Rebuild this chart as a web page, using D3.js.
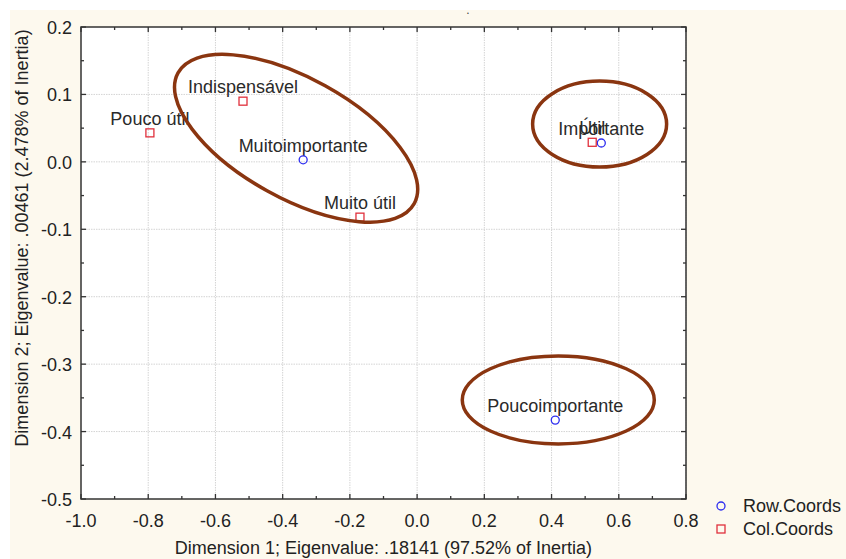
<!DOCTYPE html>
<html>
<head>
<meta charset="utf-8">
<script src="https://cdn.jsdelivr.net/npm/d3@7"></script>
<style>
  html, body { margin: 0; padding: 0; background: #ffffff; }
  svg { display: block; font-family: "Liberation Sans", Arial, sans-serif; }
</style>
</head>
<body>
<svg id="chart" width="846" height="559"></svg>
<script>
// Correspondence analysis coordinates
const rowLabels = ["Muitoimportante", "Importante", "Poucoimportante"];
const rowX = [-0.339, 0.548, 0.411];
const rowY = [0.003, 0.028, -0.383];

const colLabels = ["Pouco útil", "Indispensável", "Muito útil", "Útil"];
const colX = [-0.795, -0.518, -0.170, 0.521];
const colY = [0.043, 0.090, -0.082, 0.029];

const xTicks = [-1.0, -0.8, -0.6, -0.4, -0.2, 0.0, 0.2, 0.4, 0.6, 0.8];
const yTicks = [0.2, 0.1, 0.0, -0.1, -0.2, -0.3, -0.4, -0.5];

// Highlighted groups: centre (data units), semi-axes (px), rotation (deg)
const groupCx = [-0.360, 0.543, 0.420];
const groupCy = [0.035, 0.056, -0.353];
const groupRx = [135, 67, 96];
const groupRy = [60, 43, 44];
const groupRot = [29, 0, 0];

const xTitle = "Dimension 1; Eigenvalue: .18141 (97.52% of Inertia)";
const yTitle = "Dimension 2; Eigenvalue: .00461 (2.478% of Inertia)";
const legendNames = ["Row.Coords", "Col.Coords"];

const svg = d3.select("#chart");
const W = 846, H = 559;
const m = { left: 81, right: 686, top: 27, bottom: 499 };

// Cream page panel
svg.append("rect").attr("x", 10).attr("y", 10).attr("width", W - 10).attr("height", H - 10)
  .attr("fill", "#fdf9ee");

const x = d3.scaleLinear().domain([-1.0, 0.8]).range([m.left, m.right]);
const y = d3.scaleLinear().domain([-0.5, 0.2]).range([m.bottom, m.top]);

// Plot area
svg.append("rect").attr("x", m.left).attr("y", m.top)
  .attr("width", m.right - m.left).attr("height", m.bottom - m.top).attr("fill", "#ffffff");

// Grid
const grid = svg.append("g");
grid.selectAll(".gx").data(xTicks.slice(1)).join("line")
  .attr("x1", d => x(d)).attr("x2", d => x(d)).attr("y1", m.top).attr("y2", m.bottom)
  .attr("stroke", "#d4d4d4").attr("stroke-width", 1).attr("stroke-dasharray", "1.5,1");
grid.selectAll(".gy").data(yTicks.slice(1, -1)).join("line")
  .attr("y1", d => y(d)).attr("y2", d => y(d)).attr("x1", m.left).attr("x2", m.right)
  .attr("stroke", "#d4d4d4").attr("stroke-width", 1).attr("stroke-dasharray", "1.5,1");

// Inward ticks on all four sides
const xMinor = d3.range(-0.9, 0.8, 0.2);
const yMinor = d3.range(-0.45, 0.2, 0.1);
const tickCol = "#333";
const tk = svg.append("g").attr("stroke", tickCol).attr("stroke-width", 1.3);
[[m.bottom, -1], [m.top, 1]].forEach(([yy, dir]) => {
  tk.selectAll(null).data(xTicks).join("line")
    .attr("x1", d => x(d)).attr("x2", d => x(d)).attr("y1", yy).attr("y2", yy + dir * 5);
  tk.selectAll(null).data(xMinor).join("line")
    .attr("x1", d => x(d)).attr("x2", d => x(d)).attr("y1", yy).attr("y2", yy + dir * 3);
});
[[m.left, 1], [m.right, -1]].forEach(([xx, dir]) => {
  tk.selectAll(null).data(yTicks).join("line")
    .attr("y1", d => y(d)).attr("y2", d => y(d)).attr("x1", xx).attr("x2", xx + dir * 5);
  tk.selectAll(null).data(yMinor).join("line")
    .attr("y1", d => y(d)).attr("y2", d => y(d)).attr("x1", xx).attr("x2", xx + dir * 3);
});

// Frame
svg.append("rect").attr("x", m.left).attr("y", m.top)
  .attr("width", m.right - m.left).attr("height", m.bottom - m.top)
  .attr("fill", "none").attr("stroke", "#333").attr("stroke-width", 1.5);

// Tick labels
const txtCol = "#222";
svg.append("g").selectAll("text").data(xTicks).join("text")
  .attr("x", d => x(d)).attr("y", 527).attr("text-anchor", "middle")
  .attr("font-size", 18).attr("fill", txtCol).text(d => d3.format(".1f")(d).replace("−", "-"));
svg.append("g").selectAll("text").data(yTicks).join("text")
  .attr("x", 72).attr("y", d => y(d) + 7).attr("text-anchor", "end")
  .attr("font-size", 18).attr("fill", txtCol).text(d => d3.format(".1f")(d).replace("−", "-"));

// Axis titles
svg.append("text").attr("x", (m.left + m.right) / 2).attr("y", 554)
  .attr("text-anchor", "middle").attr("font-size", 18).attr("fill", txtCol).text(xTitle);
svg.append("text").attr("transform", "translate(28,238) rotate(-90)")
  .attr("text-anchor", "middle").attr("font-size", 18).attr("fill", txtCol).text(yTitle);

// Small title mark
svg.append("text").attr("x", 468).attr("y", 14).attr("text-anchor", "middle")
  .attr("font-size", 12).attr("fill", "#444").text(".");

// Point labels
const rows = rowLabels.map((l, i) => ({ l, x: rowX[i], y: rowY[i] }));
const cols = colLabels.map((l, i) => ({ l, x: colX[i], y: colY[i] }));
const labels = svg.append("g").attr("font-size", 18).attr("fill", "#2a2a2a").attr("text-anchor", "middle");
labels.selectAll(null).data(rows.concat(cols)).join("text")
  .attr("x", d => x(d.x)).attr("y", d => y(d.y) - 8).text(d => d.l);

// Points
const blue = "#2e2ef0", red = "#e0303c";
svg.append("g").selectAll("circle").data(rows).join("circle")
  .attr("cx", d => x(d.x)).attr("cy", d => y(d.y)).attr("r", 4)
  .attr("fill", "none").attr("stroke", blue).attr("stroke-width", 1.3);
svg.append("g").selectAll("rect").data(cols).join("rect")
  .attr("x", d => x(d.x) - 4).attr("y", d => y(d.y) - 4).attr("width", 8).attr("height", 8)
  .attr("fill", "none").attr("stroke", red).attr("stroke-width", 1.3);

// Group ellipses
svg.append("g").selectAll("ellipse").data(groupCx.map((c, i) => i)).join("ellipse")
  .attr("transform", i => `translate(${x(groupCx[i])},${y(groupCy[i])}) rotate(${groupRot[i]})`)
  .attr("rx", i => groupRx[i]).attr("ry", i => groupRy[i])
  .attr("fill", "none").attr("stroke", "#8a3510").attr("stroke-width", 3.5);

// Legend
const lg = svg.append("g");
lg.append("circle").attr("cx", 721).attr("cy", 506).attr("r", 4)
  .attr("fill", "none").attr("stroke", blue).attr("stroke-width", 1.3);
lg.append("rect").attr("x", 717).attr("y", 525).attr("width", 8).attr("height", 8)
  .attr("fill", "none").attr("stroke", red).attr("stroke-width", 1.3);
lg.selectAll("text").data(legendNames).join("text")
  .attr("x", 743).attr("y", (d, i) => 512 + i * 23)
  .attr("font-size", 18).attr("fill", txtCol).text(d => d);
</script>
</body>
</html>
